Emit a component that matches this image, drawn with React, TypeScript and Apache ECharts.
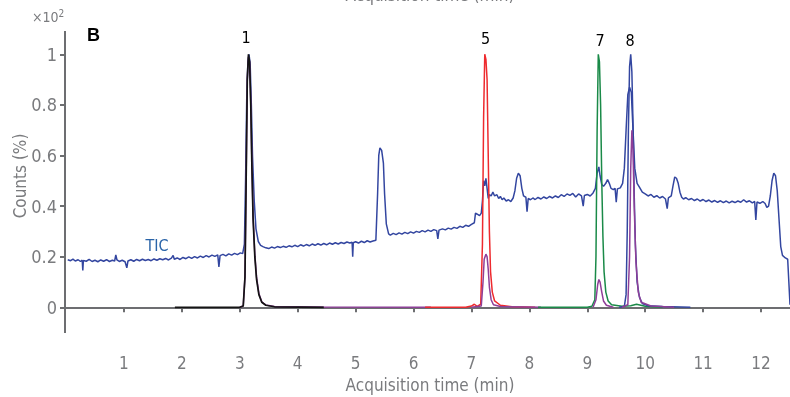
import React, { useEffect, useRef } from "react";
import * as echarts from "echarts";

// ---------- data ----------
const xTickValues = [1, 2, 3, 4, 5, 6, 7, 8, 9, 10, 11, 12];
const yTickValues = [0, 0.2, 0.4, 0.6, 0.8, 1];

const ticTime = [
  0.03, 0.08, 0.12, 0.16, 0.21, 0.25, 0.28, 0.29, 0.3, 0.35, 0.4, 0.45, 0.5, 0.55, 0.6, 0.65, 0.7, 0.75, 0.8, 0.84, 0.86, 0.88, 0.92, 0.97,
  1.02, 1.05, 1.07, 1.12, 1.17, 1.22, 1.27, 1.32, 1.37, 1.42, 1.47, 1.52, 1.57, 1.62, 1.67, 1.72, 1.77, 1.82, 1.85, 1.87, 1.92, 1.97,
  2.02, 2.07, 2.12, 2.17, 2.22, 2.27, 2.32, 2.37, 2.42, 2.47, 2.52, 2.57, 2.62, 2.64, 2.66, 2.71, 2.76, 2.81, 2.86, 2.91, 2.96,
  3.01, 3.05, 3.08, 3.1, 3.12, 3.14, 3.16, 3.18, 3.2, 3.22, 3.25, 3.28, 3.32, 3.36, 3.4, 3.45, 3.5, 3.55, 3.6, 3.65, 3.7, 3.75, 3.8, 3.85, 3.9, 3.95,
  4.0, 4.05, 4.1, 4.15, 4.2, 4.25, 4.3, 4.35, 4.4, 4.45, 4.5, 4.55, 4.6, 4.65, 4.7, 4.75, 4.8, 4.85, 4.9, 4.94, 4.95, 4.96,
  5.0, 5.05, 5.1, 5.15, 5.2, 5.25, 5.3, 5.35, 5.38, 5.4, 5.42, 5.45, 5.48, 5.5, 5.53, 5.57, 5.6, 5.65, 5.7, 5.75, 5.8, 5.85, 5.9, 5.95,
  6.0, 6.05, 6.1, 6.15, 6.2, 6.25, 6.3, 6.35, 6.4, 6.42, 6.44, 6.5, 6.55, 6.6, 6.65, 6.7, 6.75, 6.8, 6.85, 6.9, 6.95,
  7.0, 7.05, 7.07, 7.1, 7.14, 7.17, 7.19, 7.21, 7.23, 7.25, 7.27, 7.29, 7.31, 7.34, 7.37, 7.4, 7.44, 7.47, 7.5, 7.53, 7.56, 7.6, 7.64, 7.68, 7.72, 7.75, 7.78, 7.81, 7.84, 7.87, 7.9, 7.94, 7.96, 7.98,
  8.02, 8.06, 8.1, 8.15, 8.2, 8.25, 8.3, 8.35, 8.4, 8.45, 8.5, 8.55, 8.6, 8.65, 8.7, 8.75, 8.8, 8.85, 8.9, 8.93, 8.95,
  9.0, 9.05, 9.1, 9.14, 9.17, 9.2, 9.22, 9.25, 9.28, 9.32, 9.35, 9.38, 9.41, 9.45, 9.48, 9.5, 9.52, 9.57, 9.61, 9.64, 9.67, 9.7, 9.73, 9.76, 9.79, 9.82, 9.86, 9.9, 9.95,
  10.0, 10.05, 10.1, 10.15, 10.2, 10.25, 10.3, 10.35, 10.38, 10.4, 10.45, 10.48, 10.51, 10.54, 10.57, 10.6, 10.63, 10.66, 10.7, 10.75, 10.8, 10.85, 10.9, 10.95,
  11.0, 11.05, 11.1, 11.15, 11.2, 11.25, 11.3, 11.35, 11.4, 11.45, 11.5, 11.55, 11.6, 11.65, 11.7, 11.75, 11.8, 11.85, 11.89, 11.91, 11.93, 11.98,
  12.03, 12.07, 12.1, 12.13, 12.16, 12.19, 12.22, 12.25, 12.28, 12.31, 12.34, 12.37, 12.42, 12.46, 12.48, 12.5,
];
const ticCounts = [
  0.188, 0.184, 0.19, 0.183, 0.188, 0.181, 0.186, 0.146, 0.185, 0.182, 0.189, 0.181, 0.186, 0.18, 0.187, 0.182, 0.188, 0.181, 0.186, 0.183, 0.207, 0.187, 0.181, 0.186,
  0.18, 0.156, 0.183, 0.188, 0.182, 0.189, 0.184, 0.19, 0.185, 0.189, 0.184, 0.191, 0.186, 0.192, 0.188, 0.193, 0.187, 0.194, 0.205, 0.19, 0.195, 0.189,
  0.197, 0.192, 0.199, 0.193, 0.2, 0.195, 0.202, 0.197, 0.204, 0.199, 0.206, 0.201, 0.207, 0.16, 0.204, 0.209, 0.203, 0.211, 0.206, 0.213, 0.208,
  0.215, 0.212, 0.25, 0.5, 0.82, 0.97, 1.0, 0.96, 0.8, 0.6, 0.42, 0.31, 0.26, 0.245, 0.24, 0.235, 0.232, 0.238, 0.234, 0.24, 0.236, 0.241, 0.237, 0.243, 0.239, 0.245,
  0.24, 0.247, 0.242, 0.248, 0.243, 0.25, 0.245, 0.251, 0.246, 0.252, 0.247, 0.254, 0.249, 0.255, 0.25, 0.256, 0.252, 0.258, 0.254, 0.257, 0.2, 0.255,
  0.259, 0.254, 0.261, 0.256, 0.263, 0.258, 0.262, 0.265, 0.45, 0.6, 0.63, 0.62, 0.57, 0.45, 0.33, 0.29, 0.285, 0.292, 0.287, 0.294, 0.289, 0.296, 0.291, 0.298,
  0.293, 0.3, 0.296, 0.303, 0.298, 0.305, 0.3, 0.307, 0.303, 0.27, 0.305, 0.31, 0.306, 0.313, 0.309, 0.316, 0.312, 0.32, 0.316, 0.324, 0.32,
  0.328, 0.334, 0.372, 0.368, 0.362, 0.372, 0.42, 0.5, 0.48, 0.51, 0.47, 0.43, 0.445, 0.44, 0.455, 0.44, 0.445, 0.43, 0.438, 0.425, 0.432, 0.42, 0.425, 0.418, 0.432, 0.46, 0.51, 0.53, 0.52, 0.47, 0.44, 0.435, 0.378, 0.43,
  0.425, 0.432, 0.426, 0.434, 0.428, 0.436, 0.43, 0.438, 0.432, 0.44, 0.434, 0.445, 0.438, 0.448, 0.442, 0.45, 0.436, 0.448, 0.44, 0.4, 0.442,
  0.446, 0.44, 0.452, 0.47, 0.53, 0.555, 0.52, 0.485, 0.478, 0.49, 0.505, 0.49, 0.47, 0.465, 0.47, 0.415, 0.468, 0.472, 0.49, 0.55, 0.7, 0.84, 0.87, 0.85, 0.7, 0.55, 0.49, 0.475, 0.455,
  0.448, 0.44, 0.446, 0.435, 0.441, 0.432, 0.438, 0.428, 0.39, 0.432, 0.44, 0.48, 0.515, 0.51, 0.49, 0.455, 0.435, 0.428, 0.433, 0.425, 0.43, 0.422, 0.428, 0.42,
  0.426, 0.418, 0.424, 0.416, 0.422, 0.415, 0.421, 0.414, 0.42, 0.413, 0.419, 0.414, 0.42, 0.415, 0.425, 0.416, 0.421, 0.413, 0.418, 0.345, 0.416, 0.411,
  0.418, 0.41, 0.395, 0.4, 0.44, 0.5, 0.53, 0.52, 0.46, 0.35, 0.24, 0.205, 0.195, 0.19, 0.1, 0.01,
];

const c1Time = [1.88, 2.5, 3.0, 3.06, 3.09, 3.11, 3.13, 3.15, 3.17, 3.19, 3.21, 3.23, 3.26, 3.29, 3.33, 3.38, 3.45, 3.6, 4.45];
const c1Counts = [0, 0, 0, 0.005, 0.12, 0.5, 0.9, 1.0, 0.97, 0.8, 0.55, 0.35, 0.2, 0.11, 0.05, 0.02, 0.008, 0.002, 0];

const c2Time = [3.0, 3.06, 3.09, 3.11, 3.13, 3.15, 3.17, 3.19, 3.21, 3.23, 3.26, 3.29, 3.33, 3.38, 3.45, 3.6, 4.45, 6.3];
const c2Counts = [0, 0.005, 0.12, 0.5, 0.9, 0.99, 0.97, 0.81, 0.56, 0.36, 0.21, 0.12, 0.055, 0.022, 0.009, 0.003, 0.001, 0];

const c5Time = [6.2, 6.9, 7.0, 7.05, 7.1, 7.16, 7.19, 7.21, 7.23, 7.25, 7.27, 7.29, 7.31, 7.33, 7.36, 7.4, 7.5, 7.7, 8.1];
const c5Counts = [0, 0, 0.005, 0.012, 0.004, 0.012, 0.25, 0.75, 1.0, 0.98, 0.9, 0.6, 0.3, 0.14, 0.06, 0.025, 0.008, 0.002, 0];

const c6Time = [7.0, 7.17, 7.2, 7.22, 7.25, 7.27, 7.29, 7.31, 7.34, 7.38, 7.5, 8.2];
const c6Counts = [0, 0.005, 0.1, 0.19, 0.21, 0.2, 0.15, 0.08, 0.03, 0.01, 0.003, 0];

const c7Time = [8.15, 9.0, 9.08, 9.13, 9.15, 9.17, 9.19, 9.21, 9.23, 9.25, 9.27, 9.29, 9.32, 9.36, 9.42, 9.6, 9.75, 9.85, 10.0, 10.3];
const c7Counts = [0, 0, 0.004, 0.03, 0.2, 0.7, 1.0, 0.97, 0.8, 0.5, 0.28, 0.14, 0.06, 0.025, 0.01, 0.004, 0.006, 0.012, 0.004, 0];

const c7bTime = [9.1, 9.15, 9.18, 9.2, 9.22, 9.25, 9.28, 9.33, 9.45];
const c7bCounts = [0, 0.03, 0.09, 0.11, 0.1, 0.06, 0.025, 0.008, 0];

const c8Time = [9.55, 9.64, 9.67, 9.69, 9.71, 9.73, 9.75, 9.77, 9.79, 9.81, 9.83, 9.86, 9.9, 9.95, 10.05, 10.3, 10.78];
const c8Counts = [0, 0.004, 0.05, 0.3, 0.7, 0.95, 1.0, 0.93, 0.72, 0.45, 0.25, 0.1, 0.04, 0.015, 0.006, 0.003, 0];

const c8bTime = [9.6, 9.7, 9.73, 9.75, 9.77, 9.79, 9.81, 9.84, 9.88, 9.93, 10.1, 10.5];
const c8bCounts = [0, 0.01, 0.2, 0.55, 0.7, 0.62, 0.4, 0.18, 0.06, 0.02, 0.005, 0];

const peakLabels = ["1", "5", "7", "8"];

// ---------- styling ----------
const FONT = "'Liberation Sans Narrow', 'DejaVu Sans Condensed', 'Roboto Condensed', 'Liberation Sans', sans-serif";
const AXIS = "#6d6e71";
const LABEL = "#7a7b7e";
const BLUE = "#3346a0";
const PURPLE = "#8e3f98";
const RED = "#ee2a2e";
const GREEN = "#1a8a48";
const BLACK = "#141414";

const zip = (xs: number[], ys: number[]) => xs.map((x, i) => [x, ys[i]]);

export default function App() {
  const ref = useRef<HTMLDivElement>(null);
  useEffect(() => {
    if (!ref.current) return;
    const chart = echarts.init(ref.current, null, { renderer: "svg" });
    const line = (name: string, xs: number[], ys: number[], color: string, w = 1.5) => ({
      name,
      type: "line",
      data: zip(xs, ys),
      showSymbol: false,
      symbol: "none",
      lineStyle: { color, width: w },
      itemStyle: { color },
      silent: true,
    });
    chart.setOption({
      animation: false,
      grid: { left: 66, right: 0, top: 31, bottom: 51, containLabel: false },
      xAxis: {
        type: "value",
        min: 0,
        max: 12.5,
        axisLine: { show: true, lineStyle: { color: AXIS, width: 2 } },
        axisTick: { show: true, length: 5, lineStyle: { color: AXIS, width: 2 }, customValues: xTickValues },
        axisLabel: { color: LABEL, fontFamily: FONT, fontSize: 17, margin: 8, customValues: xTickValues },
        splitLine: { show: false },
      },
      yAxis: {
        type: "value",
        min: -0.153,
        max: 1.092,
        axisLine: { show: false },
        axisTick: { show: true, length: 6, lineStyle: { color: AXIS, width: 2 }, customValues: yTickValues },
        axisLabel: {
          color: LABEL,
          fontFamily: FONT,
          fontSize: 18,
          margin: 9,
          customValues: yTickValues,
          formatter: (v: number) => String(+v.toFixed(1)),
        },
        splitLine: { show: false },
      },
      series: [
        line("TIC", ticTime, ticCounts, BLUE, 1.5),
        line("Compound 1b", c2Time, c2Counts, PURPLE),
        line("Compound 1", c1Time, c1Counts, BLACK, 1.7),
        line("Compound 5", c5Time, c5Counts, RED),
        line("Compound 6", c6Time, c6Counts, PURPLE),
        line("Compound 7", c7Time, c7Counts, GREEN),
        line("Compound 7b", c7bTime, c7bCounts, PURPLE),
        line("Compound 8", c8Time, c8Counts, BLUE),
        line("Compound 8b", c8bTime, c8bCounts, PURPLE),
      ],
      graphic: [
        { type: "line", shape: { x1: 65, y1: 31, x2: 65, y2: 333 }, style: { stroke: AXIS, lineWidth: 2 } },
        {
          type: "text", x: 430, y: 3,
          style: { text: "Acquisition time (min)", fill: LABEL, font: `17px ${FONT}`, align: "center", verticalAlign: "bottom" },
        },
        {
          type: "text", x: 430, y: 385,
          style: { text: "Acquisition time (min)", fill: LABEL, font: `17px ${FONT}`, align: "center", verticalAlign: "middle" },
        },
        {
          type: "text", x: 20, y: 176, rotation: Math.PI / 2,
          style: { text: "Counts (%)", fill: LABEL, font: `17px ${FONT}`, align: "center", verticalAlign: "middle" },
        },
        {
          type: "text", x: 32, y: 16,
          style: {
            text: "{a|×10}{b|2}",
            verticalAlign: "middle",
            rich: {
              a: { fill: LABEL, font: `14px ${FONT}`, verticalAlign: "bottom" },
              b: { fill: LABEL, font: `10px ${FONT}`, verticalAlign: "top", padding: [0, 0, 6, 0] },
            },
          },
        },
        {
          type: "text", x: 87, y: 35,
          style: { text: "B", fill: "#000", font: `bold 18px 'Liberation Sans', Arial, sans-serif`, verticalAlign: "middle" },
        },
        { type: "text", x: 246, y: 37, style: { text: peakLabels[0], fill: "#000", font: `16px ${FONT}`, align: "center", verticalAlign: "middle" } },
        { type: "text", x: 485.5, y: 38.5, style: { text: peakLabels[1], fill: "#000", font: `16px ${FONT}`, align: "center", verticalAlign: "middle" } },
        { type: "text", x: 600, y: 40.5, style: { text: peakLabels[2], fill: "#000", font: `16px ${FONT}`, align: "center", verticalAlign: "middle" } },
        { type: "text", x: 630, y: 40.5, style: { text: peakLabels[3], fill: "#000", font: `16px ${FONT}`, align: "center", verticalAlign: "middle" } },
        { type: "text", x: 157, y: 245, style: { text: "TIC", fill: "#2a64a8", font: `16px ${FONT}`, align: "center", verticalAlign: "middle" } },
      ],
    });
    return () => chart.dispose();
  }, []);
  return <div ref={ref} style={{ position: "fixed", left: 0, top: 0, width: 790, height: 397 }} />;
}
